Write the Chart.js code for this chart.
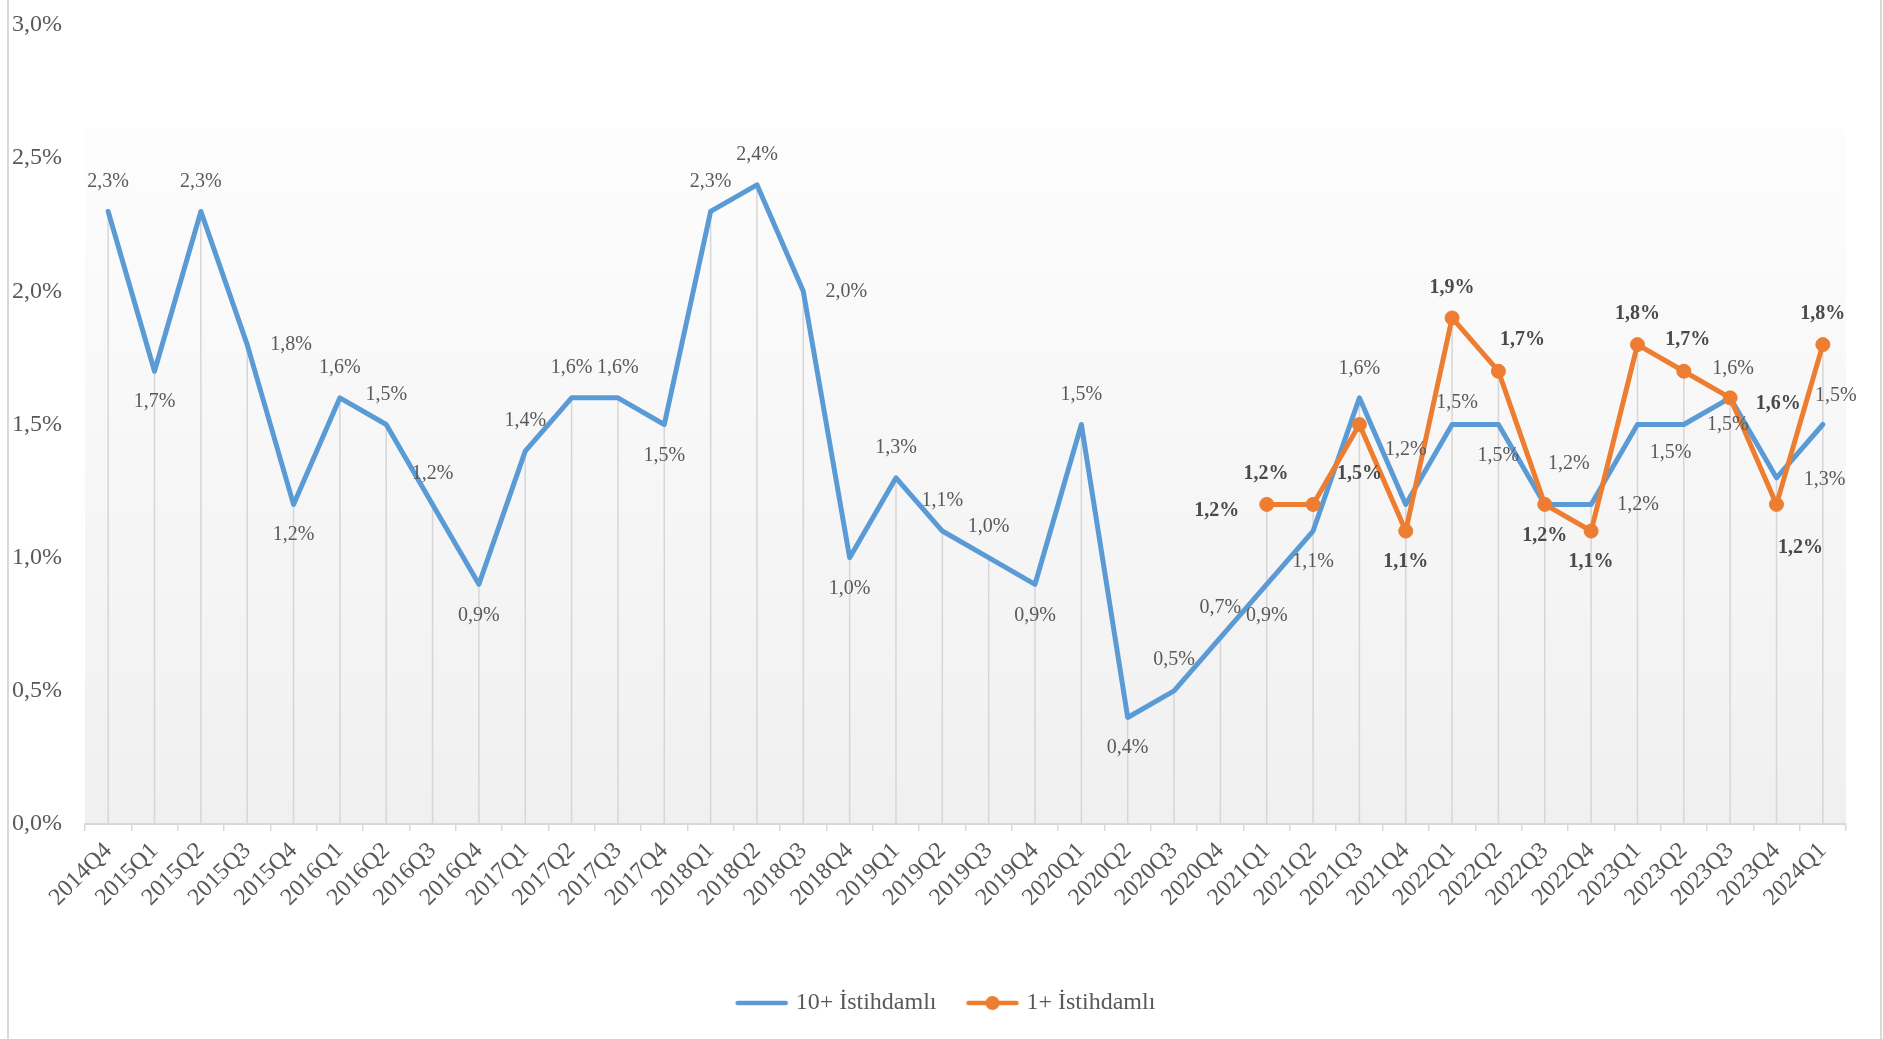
<!DOCTYPE html>
<html>
<head>
<meta charset="utf-8">
<script src="https://cdn.jsdelivr.net/npm/chart.js@4.4.1/dist/chart.umd.min.js"></script>
<style>
  html, body { margin: 0; padding: 0; background: #ffffff; }
  #wrap { width: 1883px; height: 1039px; position: relative; }
</style>
</head>
<body>
<div id="wrap"><canvas id="c"></canvas></div>
<script>
// ---------------- DATA ----------------
const categories = [
  '2014Q4',
  '2015Q1','2015Q2','2015Q3','2015Q4',
  '2016Q1','2016Q2','2016Q3','2016Q4',
  '2017Q1','2017Q2','2017Q3','2017Q4',
  '2018Q1','2018Q2','2018Q3','2018Q4',
  '2019Q1','2019Q2','2019Q3','2019Q4',
  '2020Q1','2020Q2','2020Q3','2020Q4',
  '2021Q1','2021Q2','2021Q3','2021Q4',
  '2022Q1','2022Q2','2022Q3','2022Q4',
  '2023Q1','2023Q2','2023Q3','2023Q4',
  '2024Q1'
];
const seriesNames = ['10+ İstihdamlı', '1+ İstihdamlı'];
const employed10Plus = [
  2.3,
  1.7, 2.3, 1.8, 1.2,
  1.6, 1.5, 1.2, 0.9,
  1.4, 1.6, 1.6, 1.5,
  2.3, 2.4, 2.0, 1.0,
  1.3, 1.1, 1.0, 0.9,
  1.5, 0.4, 0.5, 0.7,
  0.9, 1.1, 1.6, 1.2,
  1.5, 1.5, 1.2, 1.2,
  1.5, 1.5, 1.6, 1.3,
  1.5
];
const employed1Plus = [
  null,
  null, null, null, null,
  null, null, null, null,
  null, null, null, null,
  null, null, null, null,
  null, null, null, null,
  null, null, null, null,
  1.2, 1.2, 1.5, 1.1,
  1.9, 1.7, 1.2, 1.1,
  1.8, 1.7, 1.6, 1.2,
  1.8
];
const yTickValues = [0, 0.5, 1.0, 1.5, 2.0, 2.5, 3.0];

// label placement (pixel offsets from each point), kept apart from the data
const labelOffsets10 = [
  [0,-30],
  [0,31],[0,-30],[44,0],[0,30],
  [0,-30],[0,-30],[0,-31],[0,31],
  [0,-30],[0,-30],[0,-30],[0,31],
  [0,-30],[0,-30],[43,0],[0,31],
  [0,-30],[0,-30],[0,-31],[0,31],
  [0,-30],[0,30],[0,-31],[0,-30],
  [0,31],[0,31],[0,-29],[0,-55],
  [5,-22],[0,31],[24,-41],[47,0],
  [33,28],[44,0],[3,-29],[48,2],
  [13,-29]
];
const labelOffsets1 = {
  25:[-50,6], 26:[-47,-31], 27:[0,49], 28:[0,31],
  29:[0,-30], 30:[24,-31], 31:[0,31], 32:[0,31],
  33:[0,-31], 34:[4,-31], 35:[48,6], 36:[24,43],
  37:[0,-31]
};

// ---------------- STYLE ----------------
const BLUE = '#5b9bd5';
const ORANGE = '#ed7d31';
const TEXT = '#595959';
const FONT = '"Liberation Serif", "Times New Roman", serif';

const fmt = v => v.toFixed(1).replace('.', ',') + '%';

function makeIcon(color, withDot) {
  const c = document.createElement('canvas');
  c.width = 54; c.height = 18;
  const g = c.getContext('2d');
  g.strokeStyle = color; g.lineWidth = 4.5; g.lineCap = 'round';
  g.beginPath(); g.moveTo(3, 9); g.lineTo(51, 9); g.stroke();
  if (withDot) {
    g.fillStyle = color;
    g.beginPath(); g.arc(27, 9, 7, 0, Math.PI * 2); g.fill();
  }
  return c;
}
const legendIcons = [makeIcon(BLUE, false), makeIcon(ORANGE, true)];

const backgroundPlugin = {
  id: 'bg',
  beforeDraw(chart) {
    const {ctx, chartArea: a, width, height} = chart;
    ctx.save();
    const top = a.top + 103;
    const grad = ctx.createLinearGradient(0, top, 0, a.bottom);
    grad.addColorStop(0, '#fdfdfd');
    grad.addColorStop(1, '#f0f0f0');
    ctx.fillStyle = grad;
    ctx.fillRect(a.left, top, a.right - a.left, a.bottom - top);
    ctx.fillStyle = '#d9d9d9';
    ctx.fillRect(7, 0, 2, height);
    ctx.fillRect(width - 3, 0, 2, height);
    ctx.restore();
  }
};

const dropLinePlugin = {
  id: 'dropLines',
  beforeDatasetsDraw(chart) {
    const {ctx, chartArea: a} = chart;
    const yScale = chart.scales.y;
    const xScale = chart.scales.x;
    ctx.save();
    ctx.strokeStyle = '#d6d6d6';
    ctx.lineWidth = 1.5;
    categories.forEach((c, i) => {
      const vals = chart.data.datasets.map(d => d.data[i]).filter(v => v != null);
      if (!vals.length) return;
      const x = xScale.getPixelForValue(i);
      const y = yScale.getPixelForValue(Math.max(...vals));
      ctx.beginPath(); ctx.moveTo(x, y); ctx.lineTo(x, a.bottom); ctx.stroke();
    });
    ctx.restore();
  }
};

const valueLabelPlugin = {
  id: 'valueLabels',
  afterDatasetsDraw(chart) {
    const ctx = chart.ctx;
    const specs = [
      {offs: i => labelOffsets10[i], font: '20px ' + FONT, color: TEXT},
      {offs: i => labelOffsets1[i], font: 'bold 20px ' + FONT, color: '#4a4a4a'}
    ];
    chart.data.datasets.forEach((ds, di) => {
      const meta = chart.getDatasetMeta(di);
      const s = specs[di];
      ctx.save();
      ctx.font = s.font;
      ctx.fillStyle = s.color;
      ctx.textAlign = 'center';
      ctx.textBaseline = 'middle';
      meta.data.forEach((pt, i) => {
        const v = ds.data[i];
        if (v == null) return;
        const o = s.offs(i) || [0, -30];
        ctx.fillText(fmt(v), pt.x + o[0], pt.y + o[1]);
      });
      ctx.restore();
    });
  }
};

new Chart(document.getElementById('c'), {
  type: 'line',
  data: {
    labels: categories,
    datasets: [
      {
        label: seriesNames[0],
        data: employed10Plus,
        borderColor: BLUE,
        backgroundColor: BLUE,
        borderWidth: 5,
        pointRadius: 0,
        tension: 0,
        borderJoinStyle: 'round',
        borderCapStyle: 'round',
        order: 1
      },
      {
        label: seriesNames[1],
        data: employed1Plus,
        borderColor: ORANGE,
        backgroundColor: ORANGE,
        borderWidth: 5,
        pointRadius: 7,
        pointBorderWidth: 1,
        pointBackgroundColor: ORANGE,
        pointBorderColor: ORANGE,
        tension: 0,
        borderJoinStyle: 'round',
        borderCapStyle: 'round',
        order: 0
      }
    ]
  },
  options: {
    responsive: true,
    maintainAspectRatio: false,
    animation: false,
    events: [],
    layout: { padding: { top: 25, left: 12, right: 0, bottom: 14 } },
    plugins: {
      tooltip: { enabled: false },
      legend: {
        display: true,
        position: 'bottom',
        labels: {
          usePointStyle: true,
          pointStyleWidth: 44,
          padding: 34,
          color: TEXT,
          font: { family: FONT, size: 24 },
          generateLabels: (chart) => chart.data.datasets.map((ds, i) => ({
            text: ds.label,
            pointStyle: legendIcons[i],
            datasetIndex: i,
            fontColor: TEXT,
            hidden: false,
            lineWidth: 0,
            strokeStyle: 'rgba(0,0,0,0)',
            fillStyle: 'rgba(0,0,0,0)'
          }))
        }
      }
    },
    scales: {
      x: {
        type: 'category',
        offset: true,
        grid: {
          display: true,
          drawOnChartArea: false,
          drawTicks: true,
          tickLength: 7,
          color: '#d9d9d9',
          lineWidth: 1.5,
          offset: true
        },
        border: { display: true, color: '#d9d9d9', width: 2 },
        ticks: {
          autoSkip: false,
          minRotation: 45,
          maxRotation: 45,
          padding: 6,
          color: TEXT,
          font: { family: FONT, size: 24 }
        },
        afterFit: (s) => { s.height = 133; }
      },
      y: {
        type: 'linear',
        position: 'left',
        min: 0,
        max: 3,
        grid: { display: false, drawTicks: false },
        border: { display: false },
        afterBuildTicks: (s) => { s.ticks = yTickValues.map(v => ({ value: v })); },
        ticks: {
          padding: 0,
          crossAlign: 'far',
          color: TEXT,
          font: { family: FONT, size: 24 },
          callback: (v) => fmt(v)
        },
        afterFit: (s) => { s.width = 73; }
      },
      yRightSpace: {
        type: 'linear',
        position: 'right',
        display: true,
        grid: { display: false, drawTicks: false },
        border: { display: false },
        ticks: { display: false },
        afterFit: (s) => { s.width = 37; }
      }
    }
  },
  plugins: [backgroundPlugin, dropLinePlugin, valueLabelPlugin]
});
</script>
</body>
</html>
